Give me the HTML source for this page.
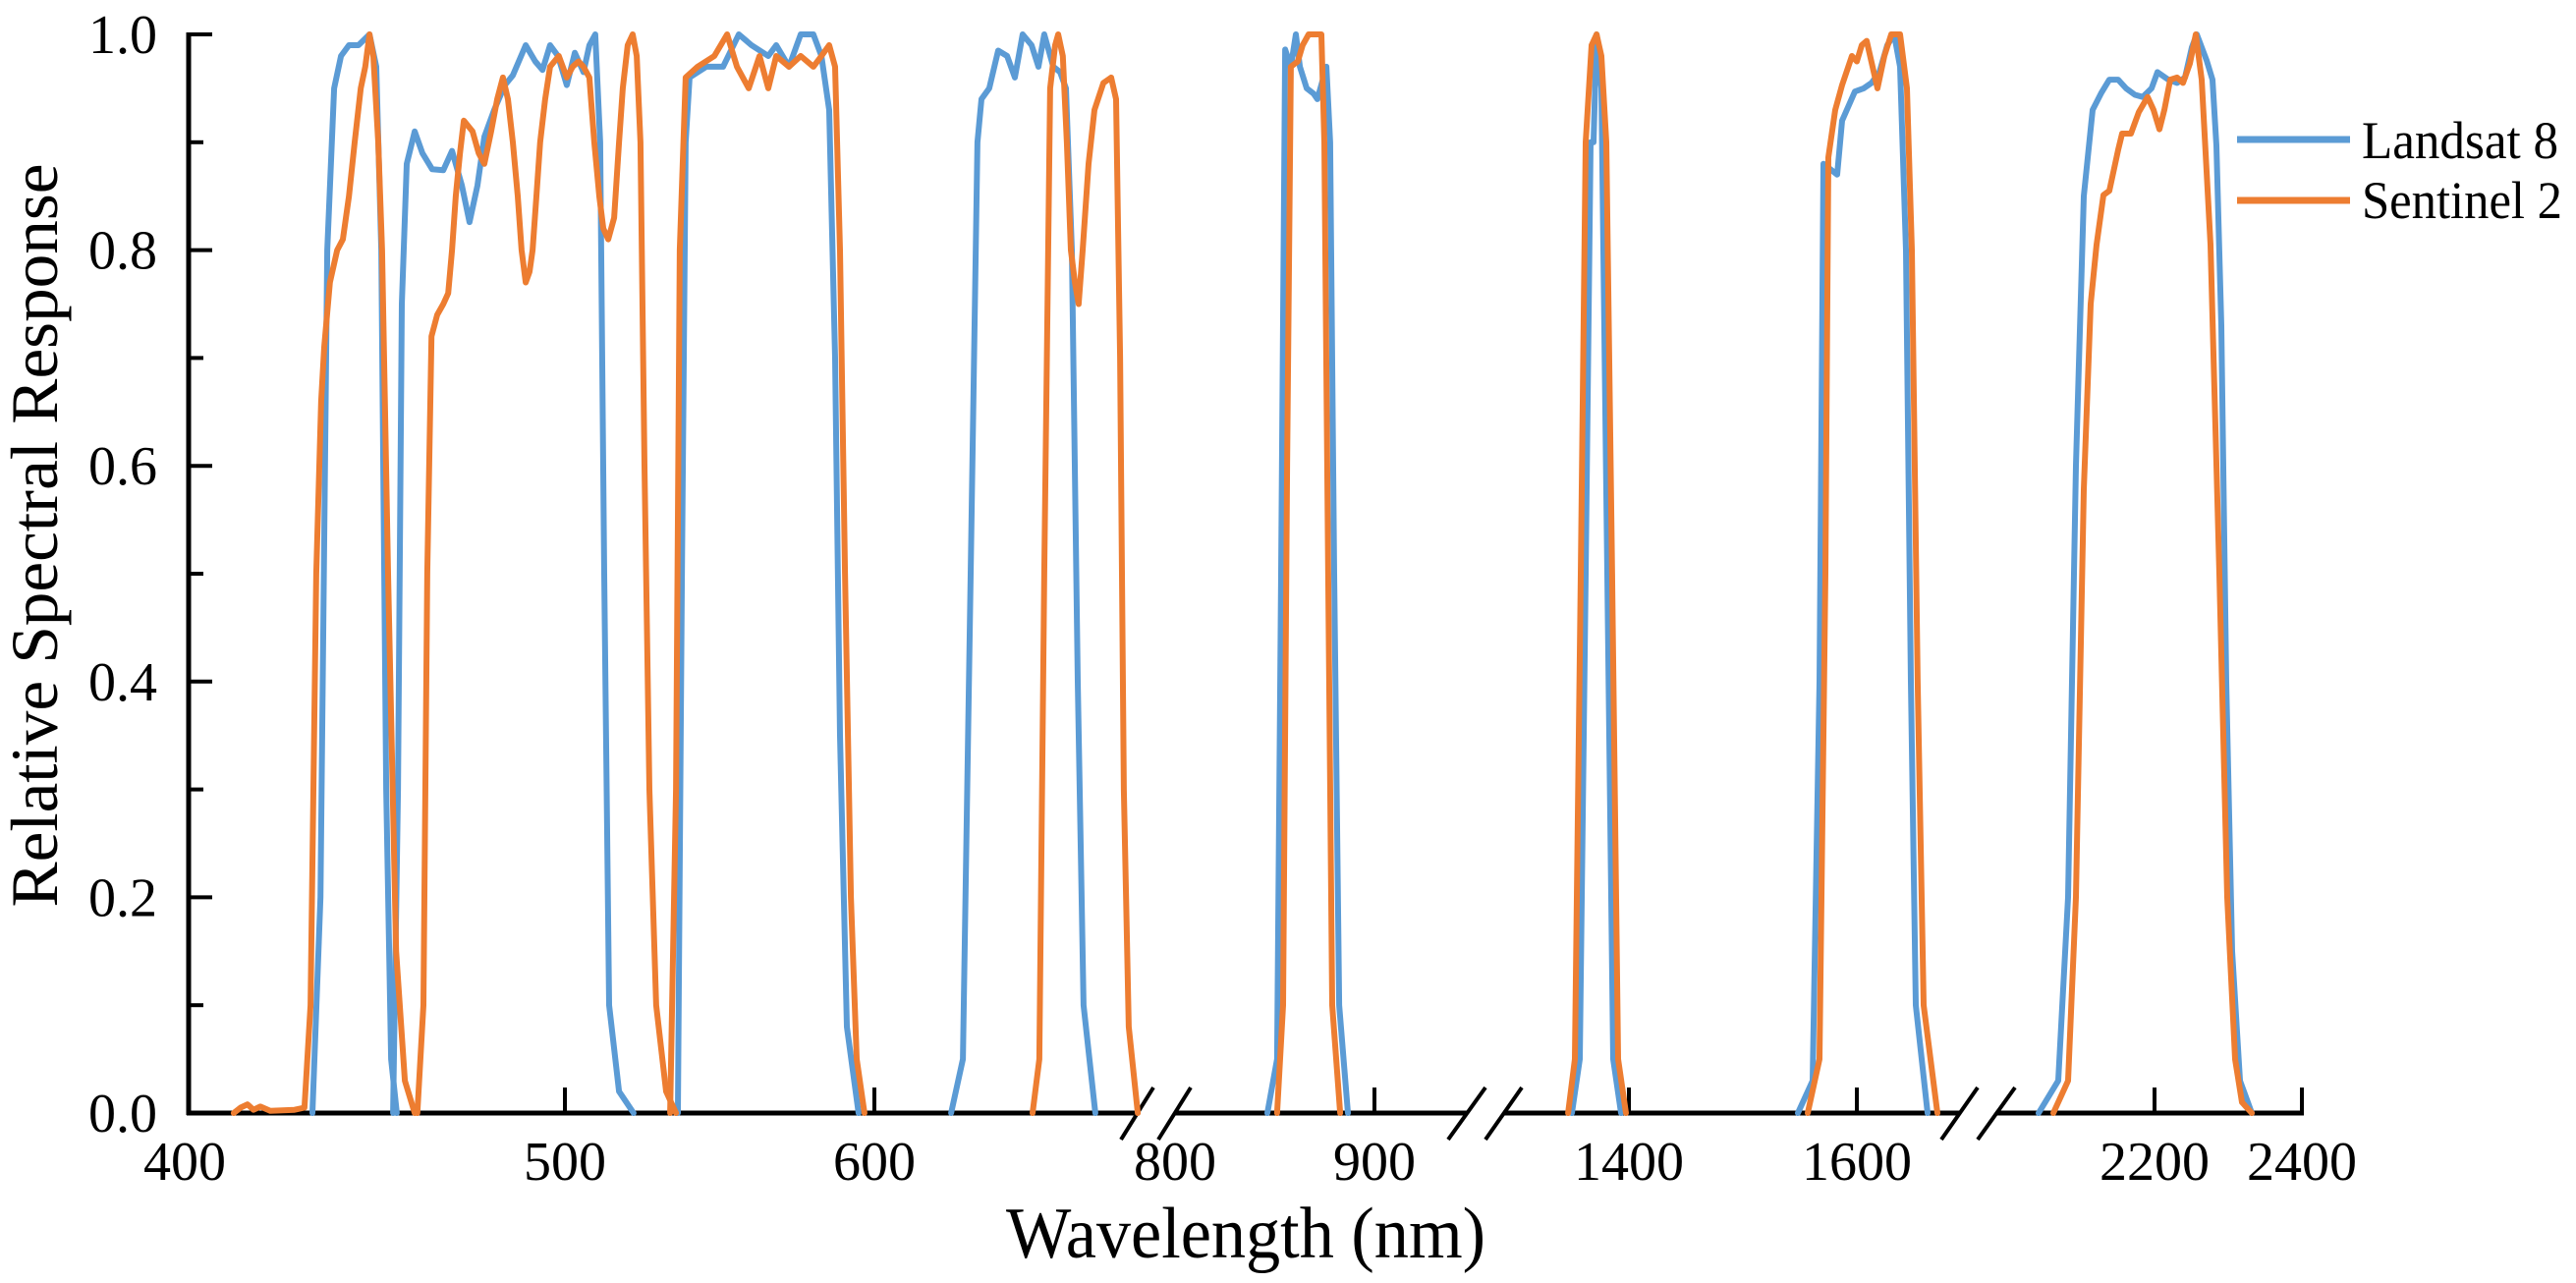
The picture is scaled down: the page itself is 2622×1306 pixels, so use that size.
<!DOCTYPE html>
<html><head><meta charset="utf-8"><style>
html,body{margin:0;padding:0;background:#fff;}
svg{display:block;}
text{font-family:"Liberation Serif","Times New Roman",serif;fill:#000;}
</style></head><body>
<svg id="chart" width="2622" height="1306" viewBox="0 0 2622 1306" xmlns="http://www.w3.org/2000/svg">
<rect x="0" y="0" width="2622" height="1306" fill="#fff"/>
<g id="axes"></g>
<g id="series"></g>
<text x="0" y="0" transform="translate(58,545) rotate(-90)" text-anchor="middle" font-size="68" textLength="757" lengthAdjust="spacingAndGlyphs">Relative Spectral Response</text>
<text x="1268" y="1280" text-anchor="middle" font-size="74" textLength="488" lengthAdjust="spacingAndGlyphs">Wavelength (nm)</text>
<g>
 <line x1="2277" y1="142" x2="2392" y2="142" stroke="#5B9BD5" stroke-width="7"/>
 <text x="2404" y="161" font-size="54" textLength="200" lengthAdjust="spacingAndGlyphs">Landsat 8</text>
 <line x1="2277" y1="204" x2="2392" y2="204" stroke="#ED7D31" stroke-width="7"/>
 <text x="2404" y="222" font-size="54" textLength="204" lengthAdjust="spacingAndGlyphs">Sentinel 2</text>
</g>
</svg>
<script>
// ---- data ----
const Y_TICKS = [0, 0.2, 0.4, 0.6, 0.8, 1.0];
const Y_MINOR = [0.1, 0.3, 0.5, 0.7, 0.9];
const X_TICKS = [500, 600, 900, 1400, 1600, 2200, 2400];
const X_LABELS = ["400", "500", "600", "800", "900", "1400", "1600", "2200", "2400"];
const X_LABEL_WL = [400, 500, 600, 800, 900, 1400, 1600, 2200, 2400];

const L8_COASTAL_WL = [433.6,435.7,437.5,439.3,441.1,443.2,445.7,448.6,450.4,451.7,453.0,454.3,455.8];
const L8_COASTAL_V  = [0,0.2,0.8,0.95,0.98,0.99,0.99,1.0,0.97,0.8,0.3,0.05,0];
const L8_BLUE_WL = [454.8,456.1,457.1,458.4,460.5,462.5,465.1,468.0,470.3,472.9,474.9,477.0,478.8,481.4,484.2,486.3,489.7,492.2,494.1,496.1,498.2,500.6,503.2,506.0,507.9,509.8,511.4,512.7,514.3,517.5,522.2];
const L8_BLUE_V  = [0,0.3,0.75,0.88,0.91,0.89,0.875,0.874,0.892,0.86,0.826,0.86,0.905,0.93,0.953,0.962,0.99,0.975,0.967,0.99,0.98,0.953,0.983,0.965,0.99,1.0,0.9,0.5,0.1,0.02,0];
const L8_GREEN_WL = [536.5,537.8,539.0,540.3,545.7,551.1,556.2,560.3,565.7,568.3,572.4,576.2,580.3,582.9,585.4,587.3,588.9,591.1,594.9];
const L8_GREEN_V  = [0,0.5,0.9,0.96,0.97,0.97,1.0,0.99,0.98,0.99,0.97,1.0,1.0,0.98,0.93,0.7,0.35,0.08,0];
const L8_RED_WL = [624.8,628.6,631.1,633.3,634.6,637.1,640.0,642.9,645.4,647.9,650.8,653.0,654.9,657.8,660.0,661.9,663.8,665.7,667.6,671.4];
const L8_RED_V  = [0,0.05,0.5,0.9,0.94,0.95,0.985,0.98,0.96,1.0,0.99,0.97,1.0,0.97,0.965,0.95,0.8,0.4,0.1,0];
const L8_NIR_WL = [846.3,851.2,853.2,855.2,858.1,860.6,862.6,866.0,869.5,871.4,875.9,877.8,879.8,882.3,886.7];
const L8_NIR_V  = [0,0.05,0.5,0.986,0.97,1.0,0.97,0.95,0.945,0.94,0.97,0.9,0.5,0.1,0];
const L8_CIRRUS_WL = [1350.0,1356.9,1362.1,1366.4,1369.0,1371.6,1375.9,1381.0,1386.2,1393.1];
const L8_CIRRUS_V  = [0,0.05,0.5,0.9,0.9,1.0,0.95,0.5,0.05,0];
const L8_SWIR1_WL = [1548.3,1561.2,1567.2,1570.7,1582.8,1587.1,1598.3,1606.0,1612.9,1619.8,1626.7,1632.8,1637.9,1643.1,1647.4,1651.7,1662.1];
const L8_SWIR1_V  = [0,0.03,0.4,0.88,0.87,0.92,0.947,0.95,0.955,0.965,0.99,1.0,0.97,0.8,0.4,0.1,0];
const L8_SWIR2_WL = [2042.7,2069.3,2082.7,2093.3,2104.0,2116.0,2128.0,2138.7,2150.7,2161.3,2173.3,2184.0,2196.0,2204.0,2218.7,2230.7,2241.3,2250.7,2257.3,2270.7,2278.7,2284.0,2290.7,2297.3,2305.3,2316.0,2332.0];
const L8_SWIR2_V  = [0,0.03,0.2,0.6,0.85,0.93,0.946,0.958,0.958,0.95,0.944,0.942,0.95,0.965,0.958,0.955,0.96,0.988,1.0,0.976,0.958,0.897,0.73,0.4,0.15,0.03,0];

const S2_COASTAL_WL = [412.9,414.7,416.5,418.1,419.9,422.5,428.9,431.5,433.1,434.6,435.9,436.7,438.2,440.1,441.6,443.2,444.7,446.3,447.5,448.6,449.6,450.9,451.9,453.5,455.6,457.9,460.5];
const S2_COASTAL_V  = [0,0.005,0.008,0.003,0.006,0.002,0.003,0.005,0.1,0.5,0.66,0.71,0.77,0.80,0.81,0.85,0.9,0.95,0.97,1.0,0.98,0.9,0.8,0.5,0.15,0.03,0];
const S2_BLUE_WL = [461.2,462.8,463.8,464.9,466.4,468.0,469.3,470.3,471.3,472.4,473.4,475.7,477.3,478.8,480.6,482.2,483.7,485.0,486.3,487.6,488.6,489.7,490.7,491.5,492.5,493.5,494.8,496.1,498.4,500.6,502.5,504.4,506.0,507.9,509.5,511.1,512.4,514.0,515.9,517.5,518.7,520.3,521.9,523.2,524.4,525.7,527.3,529.5,532.7,535.9];
const S2_BLUE_V  = [0,0.1,0.5,0.72,0.74,0.75,0.76,0.8,0.85,0.89,0.92,0.91,0.89,0.88,0.91,0.94,0.96,0.94,0.9,0.85,0.8,0.77,0.78,0.8,0.85,0.9,0.94,0.97,0.98,0.96,0.97,0.975,0.97,0.96,0.9,0.85,0.82,0.81,0.83,0.9,0.95,0.99,1.0,0.98,0.9,0.6,0.3,0.1,0.02,0];
const S2_GREEN_WL = [534.0,535.9,537.1,539.0,542.9,548.3,552.4,555.6,559.4,562.9,565.7,568.3,572.4,576.2,580.3,582.9,585.4,587.3,588.9,590.5,592.4,594.3,596.8];
const S2_GREEN_V  = [0,0.3,0.8,0.96,0.97,0.98,1.0,0.97,0.95,0.98,0.95,0.98,0.97,0.98,0.97,0.98,0.99,0.97,0.8,0.5,0.2,0.05,0];
const S2_RED_WL = [651.1,653.3,654.9,656.8,658.4,659.4,660.9,662.2,663.5,664.8,666.0,667.3,669.2,671.1,674.0,676.5,678.1,679.4,680.6,682.2,685.1];
const S2_RED_V  = [0,0.05,0.5,0.95,0.99,1.0,0.98,0.9,0.8,0.77,0.75,0.8,0.88,0.93,0.955,0.96,0.94,0.7,0.3,0.08,0];
const S2_NIR_WL = [851.2,854.2,856.2,858.1,861.6,864.0,867.0,873.4,874.9,876.8,878.8,882.8];
const S2_NIR_V  = [0,0.1,0.6,0.97,0.975,0.99,1.0,1.0,0.9,0.5,0.1,0];
const S2_CIRRUS_WL = [1346.6,1352.6,1357.8,1362.1,1367.2,1371.6,1375.9,1380.2,1385.3,1390.5,1397.4];
const S2_CIRRUS_V  = [0,0.05,0.5,0.9,0.99,1.0,0.98,0.9,0.5,0.05,0];
const S2_SWIR1_WL = [1556.9,1567.2,1572.4,1575.0,1581.0,1587.1,1595.7,1600.0,1604.3,1608.6,1613.8,1618.1,1624.1,1630.2,1637.9,1644.0,1648.3,1653.4,1658.6,1670.7];
const S2_SWIR1_V  = [0,0.05,0.5,0.886,0.93,0.953,0.98,0.975,0.99,0.994,0.97,0.95,0.98,1.0,1.0,0.95,0.8,0.4,0.1,0];
const S2_SWIR2_WL = [2062.7,2082.7,2093.3,2104.0,2113.3,2121.3,2130.7,2138.7,2150.7,2156.0,2168.0,2178.7,2190.7,2198.7,2206.7,2213.3,2221.3,2230.7,2238.7,2248.0,2256.0,2264.0,2276.0,2288.0,2298.7,2309.3,2318.7,2332.0];
const S2_SWIR2_V  = [0,0.03,0.2,0.578,0.75,0.805,0.851,0.855,0.893,0.908,0.908,0.928,0.942,0.93,0.912,0.93,0.958,0.96,0.955,0.973,1.0,0.958,0.805,0.5,0.2,0.05,0.01,0];

// ---- scales (broken axis, piecewise linear) ----
function xs(w){
  if (w <= 500) return 188 + (w - 400) * 3.87;
  if (w <= 750) return 575 + (w - 500) * 3.15;
  if (w <= 1200) return 1196 + (w - 800) * 2.03;
  if (w <= 1950) return 1658 + (w - 1400) * 1.16;
  return 2193 + (w - 2200) * 0.75;
}
const Y0 = 1133, Y1 = 35;
function ys(v){ return Y0 - v * (Y0 - Y1); }

const NS = "http://www.w3.org/2000/svg";
function mk(tag, attrs, parent){
  const e = document.createElementNS(NS, tag);
  for (const k in attrs) e.setAttribute(k, attrs[k]);
  parent.appendChild(e);
  return e;
}
const axes = document.getElementById('axes');
const series = document.getElementById('series');

// y axis
let el = mk('line', {x1:192, y1:Y1-2, x2:192, y2:Y0+2, stroke:'#000', 'stroke-width':5}, axes);


Y_TICKS.forEach(function(t){
  const tk = mk('line', {x1:192, y1:ys(t), x2:216, y2:ys(t), stroke:'#000', 'stroke-width':4}, axes);
  
  
  const lb = mk('text', {x:160, y:ys(t)+19, 'text-anchor':'end', 'font-size':56}, axes);
  lb.textContent = t.toFixed(1);
  
  
});
Y_MINOR.forEach(function(t){
  const tk = mk('line', {x1:192, y1:ys(t), x2:207, y2:ys(t), stroke:'#000', 'stroke-width':4}, axes);
  
  
});

// x axis segments with breaks
const SEGS = [[190,1157],[1196,1493],[1530,1995],[2032,2345]];
SEGS.forEach(function(s){
  const ln = mk('line', {x1:s[0], y1:Y0, x2:s[1], y2:Y0, stroke:'#000', 'stroke-width':5}, axes);
  
  
});
const SLASHES = [[1141,1174],[1179,1212],[1474,1512],[1512,1549],[1976,2013],[2013,2051]];
SLASHES.forEach(function(s){
  const sl = mk('line', {x1:s[0], y1:1160, x2:s[1], y2:1107, stroke:'#000', 'stroke-width':4}, axes);
  
  
});
X_TICKS.forEach(function(t){
  const x = xs(t);
  const tk = mk('line', {x1:x, y1:Y0, x2:x, y2:Y0-26, stroke:'#000', 'stroke-width':4}, axes);
  
  
});
X_LABELS.forEach(function(lab, i){
  const lb = mk('text', {x:xs(X_LABEL_WL[i]), y:1201, 'text-anchor':'middle', 'font-size':56}, axes);
  lb.textContent = lab;
  
  
});

// series
function drawBand(wl, v, color, name){
  const pts = wl.map(function(w, i){ return xs(w).toFixed(1) + ',' + ys(v[i]).toFixed(1); }).join(' ');
  const p = mk('polyline', {points:pts, fill:'none', stroke:color, 'stroke-width':6, 'stroke-linejoin':'round', 'stroke-linecap':'round'}, series);
  
  
}
const BLUE = '#5B9BD5', ORANGE = '#ED7D31';
drawBand(L8_COASTAL_WL, L8_COASTAL_V, BLUE, 'landsat8-coastal-band');
drawBand(L8_BLUE_WL, L8_BLUE_V, BLUE, 'landsat8-blue-band');
drawBand(L8_GREEN_WL, L8_GREEN_V, BLUE, 'landsat8-green-band');
drawBand(L8_RED_WL, L8_RED_V, BLUE, 'landsat8-red-band');
drawBand(L8_NIR_WL, L8_NIR_V, BLUE, 'landsat8-nir-band');
drawBand(L8_CIRRUS_WL, L8_CIRRUS_V, BLUE, 'landsat8-cirrus-band');
drawBand(L8_SWIR1_WL, L8_SWIR1_V, BLUE, 'landsat8-swir1-band');
drawBand(L8_SWIR2_WL, L8_SWIR2_V, BLUE, 'landsat8-swir2-band');
drawBand(S2_COASTAL_WL, S2_COASTAL_V, ORANGE, 'sentinel2-coastal-band');
drawBand(S2_BLUE_WL, S2_BLUE_V, ORANGE, 'sentinel2-blue-band');
drawBand(S2_GREEN_WL, S2_GREEN_V, ORANGE, 'sentinel2-green-band');
drawBand(S2_RED_WL, S2_RED_V, ORANGE, 'sentinel2-red-band');
drawBand(S2_NIR_WL, S2_NIR_V, ORANGE, 'sentinel2-nir-band');
drawBand(S2_CIRRUS_WL, S2_CIRRUS_V, ORANGE, 'sentinel2-cirrus-band');
drawBand(S2_SWIR1_WL, S2_SWIR1_V, ORANGE, 'sentinel2-swir1-band');
drawBand(S2_SWIR2_WL, S2_SWIR2_V, ORANGE, 'sentinel2-swir2-band');
</script>
</body></html>
